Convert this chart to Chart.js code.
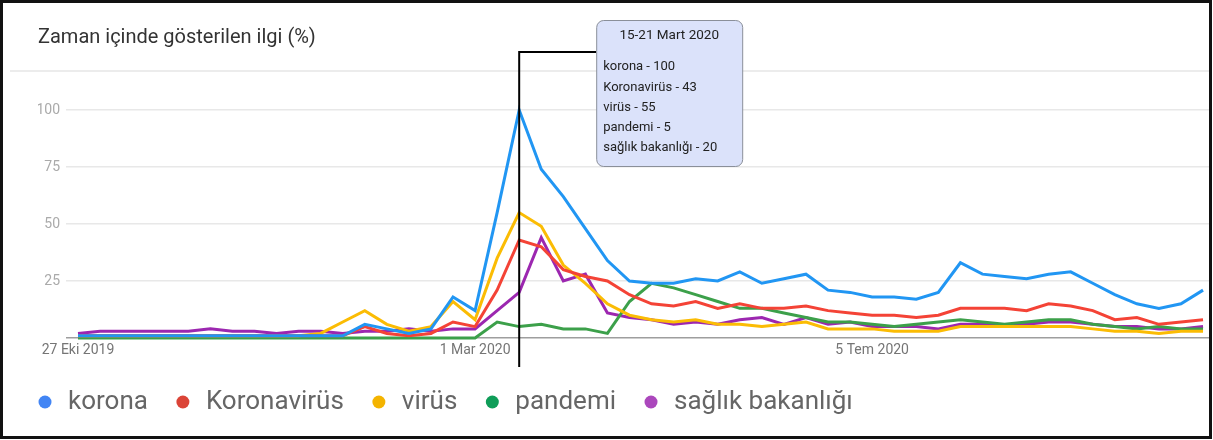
<!DOCTYPE html>
<html lang="tr">
<head>
<meta charset="utf-8">
<title>Zaman içinde gösterilen ilgi (%)</title>
<script src="https://cdn.jsdelivr.net/npm/chart.js@4.4.1/dist/chart.umd.min.js"></script>
<style>
  html, body { margin: 0; padding: 0; background: #fff; }
  #wrap { width: 1213px; height: 440px; }
</style>
</head>
<body>
<div id="wrap"><canvas id="trendChart" width="1213" height="440"></canvas></div>
<script>
/* ------------------------------------------------------------
   Google Trends style: interest over time, weekly, 5 terms
------------------------------------------------------------ */

// weeks (start day of each week)
const weeks = [
  '27 Eki 2019', '3 Kas 2019', '10 Kas 2019', '17 Kas 2019', '24 Kas 2019',
  '1 Ara 2019', '8 Ara 2019', '15 Ara 2019', '22 Ara 2019', '29 Ara 2019',
  '5 Oca 2020', '12 Oca 2020', '19 Oca 2020', '26 Oca 2020', '2 Şub 2020',
  '9 Şub 2020', '16 Şub 2020', '23 Şub 2020', '1 Mar 2020', '8 Mar 2020',
  '15 Mar 2020', '22 Mar 2020', '29 Mar 2020', '5 Nis 2020', '12 Nis 2020',
  '19 Nis 2020', '26 Nis 2020', '3 May 2020', '10 May 2020', '17 May 2020',
  '24 May 2020', '31 May 2020', '7 Haz 2020', '14 Haz 2020', '21 Haz 2020',
  '28 Haz 2020', '5 Tem 2020', '12 Tem 2020', '19 Tem 2020', '26 Tem 2020',
  '2 Ağu 2020', '9 Ağu 2020', '16 Ağu 2020', '23 Ağu 2020', '30 Ağu 2020',
  '6 Eyl 2020', '13 Eyl 2020', '20 Eyl 2020', '27 Eyl 2020', '4 Eki 2020',
  '11 Eki 2020', '18 Eki 2020'
];
const xTickIdx = [0, 18, 36];
const yTickVals = [0, 25, 50, 75, 100];

const seriesNames = ['korona', 'Koronavirüs', 'virüs', 'pandemi', 'sağlık bakanlığı'];

const korona      = [1,1,1,1,1,1,1,1,1,1,1,1,1, 6,4,2,4,18,12,55,100, 74,62,48,34,25,24,24,26,25,29, 24,26,28,21,20,18,18,17,20,33, 28,27,26,28,29,24,19,15,13,15,21];
const koronavirus = [1,1,1,1,1,1,1,1,1,1,1,1,1, 5,2,1,2,7,5,21,43, 40,30,27,25,19,15,14,16,13,15, 13,13,14,12,11,10,10,9,10,13, 13,13,12,15,14,12,8,9,6,7,8];
const virus       = [1,1,1,1,1,1,1,1,1,1,1,2,7, 12,6,3,5,16,8,35,55, 49,32,24,15,10,8,7,8,6,6, 5,6,7,4,4,4,3,3,3,5, 5,5,5,5,5,4,3,3,2,3,3];
const pandemi     = [0,0,0,0,0,0,0,0,0,0,0,0,0, 0,0,0,0,0,0,7,5, 6,4,4,2,16,24,22,19,16,13, 13,11,9,7,7,6,5,6,7,8, 7,6,7,8,8,6,5,4,5,4,4];
const saglik      = [2,3,3,3,3,3,4,3,3,2,3,3,2, 3,3,4,3,4,4,12,20, 44,25,28,11,9,8,6,7,6,8, 9,6,9,6,7,5,5,5,4,6, 6,5,6,7,7,6,5,5,4,4,5];

// the highlighted week (hover card)
const hoverIdx  = 20;
const hoverWeek = '15-21 Mart 2020';

/* ---------- styles ---------- */
const LINE_COLORS = ['#2196f3', '#f44336', '#fbbc04', '#3ca04a', '#9c27b0'];
const DOT_COLORS  = ['#4285f4', '#db4437', '#f4b400', '#0f9d58', '#ab47bc'];
const FONT = 'Roboto';

const allSeries = [korona, koronavirus, virus, pandemi, saglik];

/* ---------- plugins ---------- */

// white page, black frame, thin rule under the title
const framePlugin = {
  id: 'frame',
  beforeDraw(chart) {
    const { ctx, width } = chart;
    ctx.save();
    ctx.fillStyle = '#fff';
    ctx.fillRect(0, 0, width, chart.height);
    ctx.strokeStyle = '#e6e6e6';
    ctx.lineWidth = 1.5;
    ctx.beginPath();
    ctx.moveTo(10, 71);
    ctx.lineTo(width - 3, 71);
    ctx.stroke();
    ctx.restore();
  },
  afterDraw(chart) {
    const { ctx, width, height } = chart;
    ctx.save();
    ctx.strokeStyle = '#111';
    ctx.lineWidth = 3;
    ctx.strokeRect(1.5, 1.5, width - 4, height - 4);
    ctx.restore();
  }
};

// the hover card + vertical marker at hoverIdx
const hoverNotePlugin = {
  id: 'hoverNote',
  afterDatasetsDraw(chart) {
    const { ctx, chartArea } = chart;
    const x = chart.scales.x.getPixelForValue(hoverIdx);
    const lineTop = chartArea.top - 58;
    const boxL = x + 77, boxT = 20, boxW = 146, boxH = 146;

    ctx.save();
    ctx.strokeStyle = '#000';
    ctx.lineWidth = 2;
    ctx.beginPath();
    ctx.moveTo(x, chartArea.bottom + 29);
    ctx.lineTo(x, lineTop);
    ctx.lineTo(boxL, lineTop);
    ctx.stroke();

    ctx.fillStyle = '#dbe2fa';
    ctx.strokeStyle = '#8a8f99';
    ctx.lineWidth = 1;
    ctx.beginPath();
    ctx.roundRect(boxL + 0.5, boxT + 0.5, boxW, boxH, 7);
    ctx.fill();
    ctx.stroke();

    ctx.fillStyle = '#222';
    ctx.font = '13.5px ' + FONT;
    ctx.textBaseline = 'middle';
    ctx.textAlign = 'center';
    ctx.fillText(hoverWeek, boxL + boxW / 2, boxT + 16);
    ctx.font = '13px ' + FONT;
    ctx.textAlign = 'left';
    chart.data.datasets.forEach((ds, i) => {
      ctx.fillText(ds.label + ' - ' + ds.data[hoverIdx].y, boxL + 7, boxT + 47 + i * 20.3);
    });
    ctx.restore();
  }
};

// bottom legend: coloured dot + label
const dotLegendPlugin = {
  id: 'dotLegend',
  afterDraw(chart) {
    const { ctx, chartArea } = chart;
    const y = chartArea.bottom + 64;
    let cx = 45;
    ctx.save();
    ctx.font = '26px ' + FONT;
    ctx.textBaseline = 'middle';
    chart.data.datasets.forEach((ds, i) => {
      ctx.fillStyle = DOT_COLORS[i];
      ctx.beginPath();
      ctx.arc(cx, y, 6.5, 0, Math.PI * 2);
      ctx.fill();
      ctx.fillStyle = '#666';
      ctx.fillText(ds.label, cx + 23, y);
      cx += 23 + ctx.measureText(ds.label).width + 35;
    });
    ctx.restore();
  }
};

/* ---------- chart ---------- */

new Chart(document.getElementById('trendChart'), {
  type: 'line',
  data: {
    datasets: allSeries.map((vals, i) => ({
      label: seriesNames[i],
      data: vals.map((v, k) => ({ x: k, y: v })),
      borderColor: LINE_COLORS[i],
      backgroundColor: LINE_COLORS[i],
      borderWidth: 3,
      pointRadius: 0,
      tension: 0,
      clip: false
    }))
  },
  options: {
    responsive: false,
    animation: false,
    devicePixelRatio: 1,
    layout: { autoPadding: false, padding: { left: 38, right: 4, top: 0, bottom: 81 } },
    plugins: {
      legend: { display: false },
      tooltip: { enabled: false },
      title: {
        display: true,
        text: 'Zaman içinde gösterilen ilgi (%)',
        align: 'start',
        color: '#333',
        font: { family: FONT, size: 20, weight: 'normal' },
        padding: { top: 26, bottom: 60 }
      }
    },
    scales: {
      x: {
        type: 'linear',
        min: -0.544,
        max: 51.27,
        afterBuildTicks: s => { s.ticks = xTickIdx.map(v => ({ value: v })); },
        afterFit: s => { s.height = 21; },
        ticks: {
          autoSkip: false,
          maxRotation: 0,
          padding: 4,
          color: '#757575',
          font: { family: FONT, size: 14 },
          callback: v => weeks[v]
        },
        grid: { display: false, drawTicks: false },
        border: { display: false }
      },
      y: {
        min: 0,
        max: 100,
        afterBuildTicks: s => { s.ticks = yTickVals.map(v => ({ value: v })); },
        afterFit: s => { s.width = 28; },
        ticks: {
          padding: 6,
          color: '#aaa',
          font: { family: FONT, size: 14 },
          callback: v => (v === 0 ? '' : v)
        },
        grid: {
          drawTicks: false,
          lineWidth: 1.5,
          color: c => (c.tick && c.tick.value === 0 ? '#9e9e9e' : '#e8e8e8')
        },
        border: { display: false }
      }
    }
  },
  plugins: [framePlugin, hoverNotePlugin, dotLegendPlugin]
});
</script>
</body>
</html>
